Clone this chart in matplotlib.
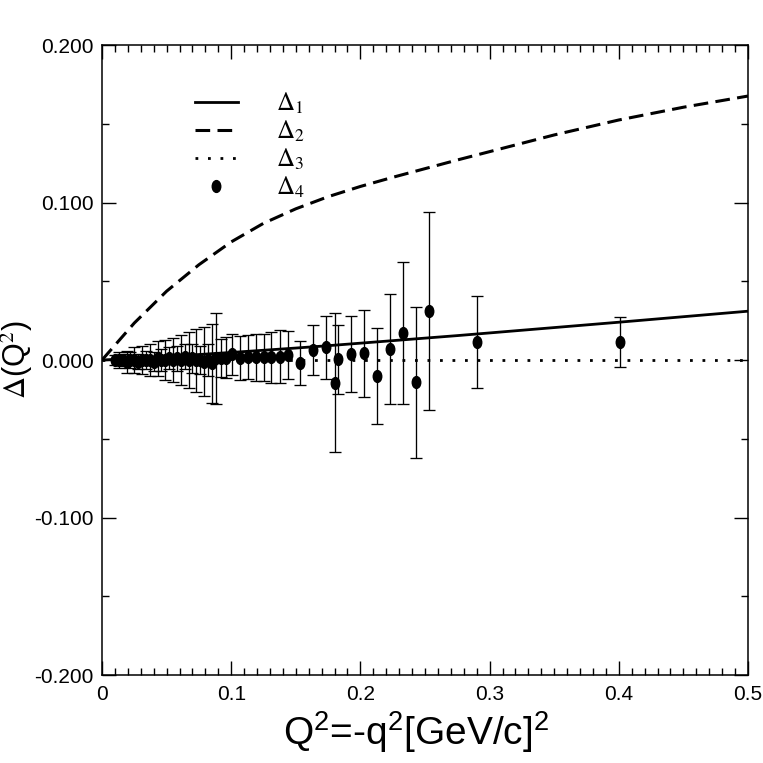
import matplotlib
matplotlib.use("Agg")
import matplotlib.pyplot as plt
from matplotlib.lines import Line2D
from matplotlib.markers import MarkerStyle
from matplotlib.transforms import Affine2D
from matplotlib.ticker import MultipleLocator, FormatStrFormatter

# curves
q2_curve = [0.0, 0.025, 0.05, 0.075, 0.1, 0.125, 0.15, 0.175, 0.2, 0.225, 0.25, 0.275,
            0.3, 0.35, 0.4, 0.45, 0.5]
delta1 = [0.0, 0.0011, 0.0023, 0.0035, 0.0048, 0.0062, 0.0076, 0.0091, 0.0107, 0.0123, 0.0139,
          0.0155, 0.0172, 0.0206, 0.0240, 0.0275, 0.0310]
delta2 = [0.0, 0.0235, 0.0437, 0.0605, 0.0750, 0.0868, 0.0960, 0.1037, 0.1102, 0.1160, 0.1215,
          0.1270, 0.1323, 0.1429, 0.1524, 0.1605, 0.1676]
delta3 = [0.0] * len(q2_curve)

# data points (delta_4) with errors
q2_pts = [0.010, 0.013, 0.016, 0.019, 0.022, 0.025, 0.028, 0.031, 0.034, 0.037,
          0.040, 0.043, 0.046, 0.049, 0.052, 0.055, 0.058, 0.061, 0.064, 0.067,
          0.070, 0.073, 0.076, 0.079, 0.082, 0.085, 0.088,
          0.092, 0.096, 0.101, 0.107, 0.113, 0.119, 0.125, 0.131, 0.138, 0.144,
          0.153, 0.163, 0.173, 0.180, 0.183, 0.193, 0.203, 0.213, 0.223, 0.233,
          0.243, 0.253, 0.2905, 0.401]
delta4 = [0.000, 0.000, 0.000, -0.001, 0.000, 0.000, -0.001, 0.000, 0.000, 0.000,
          -0.001, 0.001, 0.000, 0.000, 0.001, 0.000, 0.001, 0.000, 0.002, 0.000,
          0.001, 0.000, 0.000, -0.001, 0.000, -0.002, 0.001,
          0.0015, 0.0015, 0.0036, 0.0015, 0.0017, 0.0017, 0.0017, 0.0017, 0.0021, 0.0032,
          -0.0017, 0.0063, 0.0081, -0.0144, 0.0004, 0.0038, 0.0042, -0.0100, 0.0070, 0.0173,
          -0.0142, 0.0311, 0.0114, 0.0114]
delta4_err = [0.003, 0.005, 0.004, 0.007, 0.005, 0.008, 0.005, 0.009, 0.006, 0.010,
              0.006, 0.011, 0.007, 0.013, 0.007, 0.014, 0.008, 0.016, 0.008, 0.018,
              0.009, 0.020, 0.009, 0.022, 0.010, 0.025, 0.029,
              0.012, 0.013, 0.013, 0.014, 0.014, 0.015, 0.015, 0.016, 0.017, 0.015,
              0.014, 0.016, 0.020, 0.044, 0.022, 0.024, 0.0275, 0.0305, 0.035, 0.045,
              0.048, 0.063, 0.029, 0.0156]

fig = plt.figure(figsize=(7.63, 7.63), dpi=100)
ax = fig.add_axes([0.1337, 0.1153, 0.8466, 0.8257])

ax.plot(q2_curve, delta1, color='black', lw=2.0, solid_capstyle='butt')
ax.plot(q2_curve, delta2, color='black', lw=2.2, dashes=(4.8, 2.4))
ax.plot(q2_curve, delta3, color='black', lw=2.0, dashes=(1, 3.5))

ell = MarkerStyle('o', transform=Affine2D().scale(0.72, 1.0))
ax.errorbar(q2_pts, delta4, yerr=delta4_err, fmt='none', ecolor='black',
            elinewidth=0.95, capsize=4.6, capthick=0.95)
ax.plot(q2_pts, delta4, ls='none', marker=ell, ms=8.5, color='black')

ax.set_xlim(0, 0.5)
ax.set_ylim(-0.2, 0.2)
ax.xaxis.set_major_locator(MultipleLocator(0.1))
ax.xaxis.set_minor_locator(MultipleLocator(0.01))
ax.yaxis.set_major_locator(MultipleLocator(0.1))
ax.yaxis.set_minor_locator(MultipleLocator(0.05))
ax.xaxis.set_major_formatter(FormatStrFormatter('%g'))
ax.yaxis.set_major_formatter(FormatStrFormatter('%.3f'))
ax.tick_params(which='both', direction='in', top=True, right=True, width=1.0)
ax.tick_params(which='major', length=10)
ax.tick_params(which='minor', length=5)
ax.tick_params(axis='x', which='major', pad=7)
ax.tick_params(axis='y', which='major', pad=6)
for lab in ax.get_xticklabels() + ax.get_yticklabels():
    lab.set_family(['Liberation Sans', 'DejaVu Sans'])
    lab.set_fontsize(15)
for sp in ax.spines.values():
    sp.set_linewidth(1.1)

plt.rcParams['mathtext.rm'] = 'Liberation Sans'
ax.set_xlabel(r'Q$^2$=-q$^2$[GeV/c]$^2$', fontsize=28, family='Liberation Sans',
              math_fontfamily='custom')
ax.xaxis.set_label_coords(0.487, -0.055)
ax.set_ylabel(r'$\Delta$(Q$^2$)', fontsize=22, family='Liberation Sans',
              math_fontfamily='stix')
ax.yaxis.set_label_coords(-0.104, 0.5)

handles = [Line2D([], [], color='black', lw=2.0),
           Line2D([], [], color='black', lw=2.2, dashes=(4.8, 2.4)),
           Line2D([], [], color='black', lw=2.0, dashes=(1, 3.5)),
           Line2D([], [], ls='none', marker=ell, ms=8.5, color='black')]
labels = [r'$\Delta_1$', r'$\Delta_2$', r'$\Delta_3$', r'$\Delta_4$']
leg = ax.legend(handles, labels, loc='upper left', bbox_to_anchor=(0.144, 0.927),
                frameon=False, borderpad=0, borderaxespad=0, handlelength=1.7,
                handletextpad=1.55, labelspacing=0.1,
                prop={'size': 18, 'math_fontfamily': 'stix'})

fig.savefig('out.png', dpi=100)
